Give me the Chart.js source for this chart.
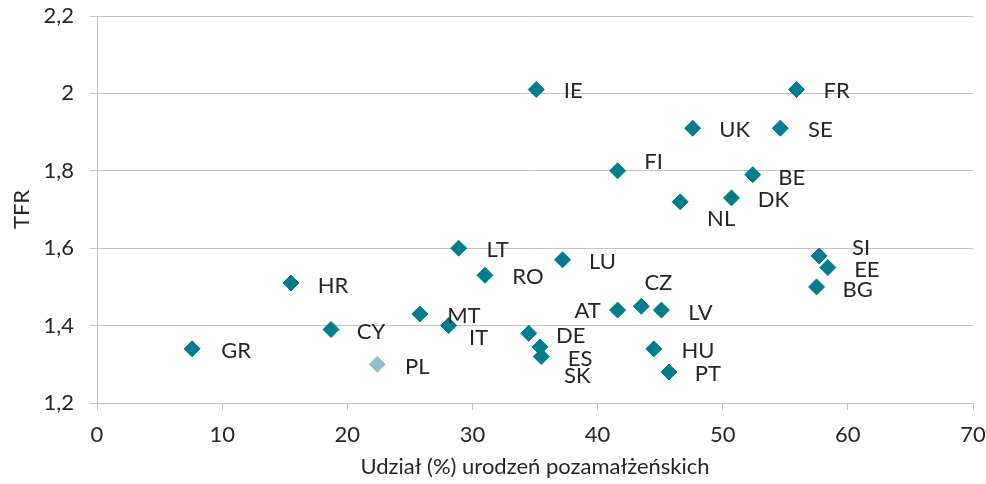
<!DOCTYPE html>
<html lang="pl">
<head>
<meta charset="UTF-8">
<title>TFR a udział urodzeń pozamałżeńskich</title>
<script src="https://cdn.jsdelivr.net/npm/chart.js"></script>
<style>
  html, body { margin: 0; padding: 0; background: #fff; }
  #wrap { width: 986px; height: 484px; }
</style>
</head>
<body>
<div id="wrap"><canvas id="chart" width="986" height="484"></canvas></div>
<script>
// --- dane ---
const countries = ['IE', 'FR', 'UK', 'SE', 'FI', 'BE', 'DK', 'NL', 'LT', 'LU', 'RO', 'HR', 'SI', 'EE', 'BG',
                   'CZ', 'AT', 'LV', 'MT', 'IT', 'CY', 'DE', 'HU', 'ES', 'SK', 'GR', 'PL', 'PT'];
const shareOutOfWedlock = [35.1, 55.9, 47.6, 54.6, 41.6, 52.4, 50.7, 46.6, 28.9, 37.2, 31.0, 15.5, 57.7, 58.4, 57.5,
                           43.5, 41.6, 45.1, 25.8, 28.1, 18.7, 34.5, 44.5, 35.4, 35.5, 7.6, 22.4, 45.7];
const tfr = [2.01, 2.01, 1.91, 1.91, 1.80, 1.79, 1.73, 1.72, 1.60, 1.57, 1.53, 1.51, 1.58, 1.55, 1.50,
             1.45, 1.44, 1.44, 1.43, 1.40, 1.39, 1.38, 1.34, 1.345, 1.32, 1.34, 1.30, 1.28];
const highlighted = 'PL';
const xTicks = [0, 10, 20, 30, 40, 50, 60, 70];
const yTicks = [1.2, 1.4, 1.6, 1.8, 2.0, 2.2];

// przesunięcia etykiet (px) względem punktu
const labelOffsets = {
  IE: [37, 1], FR: [40, 1], UK: [42, 2], SE: [40, 2], FI: [36, -9], BE: [39, 3], DK: [42, 2],
  NL: [41, 17], LT: [39, 2], LU: [40, 2], RO: [43, 2], HR: [42, 3], SI: [42, -8], EE: [39, 2],
  BG: [41, 3], CZ: [17, -23], AT: [-30, 1], LV: [39, 3], MT: [44, 2], IT: [30, 12], CY: [40, 2],
  DE: [42, 3], HU: [44, 2], ES: [40, 12], SK: [36, 19], GR: [44, 2], PL: [40, 3], PT: [39, 2]
};

const FONT = 'Lato, "Open Sans", sans-serif';
const FS = 22;
const TEXT = '#262626';
const TEAL = '#007d8a';
const TEAL_LIGHT = '#92bfc9';

const points = countries.map((c, i) => ({ x: shareOutOfWedlock[i], y: tfr[i] }));
const colors = countries.map(c => c === highlighted ? TEAL_LIGHT : TEAL);

const pointLabels = {
  id: 'pointLabels',
  afterDatasetsDraw(chart) {
    const ctx = chart.ctx;
    const meta = chart.getDatasetMeta(0);
    ctx.save();
    ctx.font = FS + 'px ' + FONT;
    ctx.fillStyle = TEXT;
    ctx.textAlign = 'center';
    ctx.textBaseline = 'middle';
    meta.data.forEach((el, i) => {
      const off = labelOffsets[countries[i]] || [40, 2];
      ctx.fillText(countries[i], el.x + off[0], el.y + off[1]);
    });
    ctx.restore();
  }
};

new Chart(document.getElementById('chart'), {
  type: 'scatter',
  data: {
    datasets: [{
      data: points,
      pointStyle: 'rectRot',
      pointRadius: 8,
      pointHoverRadius: 8,
      backgroundColor: colors,
      borderColor: colors,
      borderWidth: 1
    }]
  },
  options: {
    responsive: false,
    animation: false,
    layout: { padding: { top: 16, right: 13, left: 0, bottom: 0 } },
    plugins: { legend: { display: false }, tooltip: { enabled: false } },
    scales: {
      x: {
        type: 'linear',
        min: 0, max: 70,
        afterBuildTicks: s => { s.ticks = xTicks.map(v => ({ value: v })); },
        afterFit: s => { s.height = 81; s.paddingLeft = 0; s.paddingRight = 0; },
        grid: { drawOnChartArea: false, drawTicks: true, tickLength: 7, color: '#bfbfbf' },
        border: { display: true, color: '#bfbfbf' },
        ticks: { color: TEXT, font: { family: FONT, size: FS }, padding: 12 },
        title: { display: true, text: 'Udział (%) urodzeń pozamałżeńskich', color: TEXT,
                 font: { family: FONT, size: FS }, padding: { top: 0, bottom: 4 } }
      },
      y: {
        type: 'linear',
        min: 1.2, max: 2.2,
        afterBuildTicks: s => { s.ticks = yTicks.map(v => ({ value: v })); },
        afterFit: s => { s.width = 97; s.paddingTop = 0; s.paddingBottom = 0; },
        grid: { drawTicks: true, tickLength: 7, color: '#c4c4c4' },
        border: { display: true, color: '#bfbfbf' },
        ticks: {
          color: TEXT, font: { family: FONT, size: FS }, padding: 16,
          callback: v => String(Math.round(v * 10) / 10).replace('.', ',')
        },
        title: { display: true, text: 'TFR', color: TEXT,
                 font: { family: FONT, size: FS }, padding: { top: 9, bottom: 0 } }
      }
    }
  },
  plugins: [pointLabels]
});
</script>
</body>
</html>
